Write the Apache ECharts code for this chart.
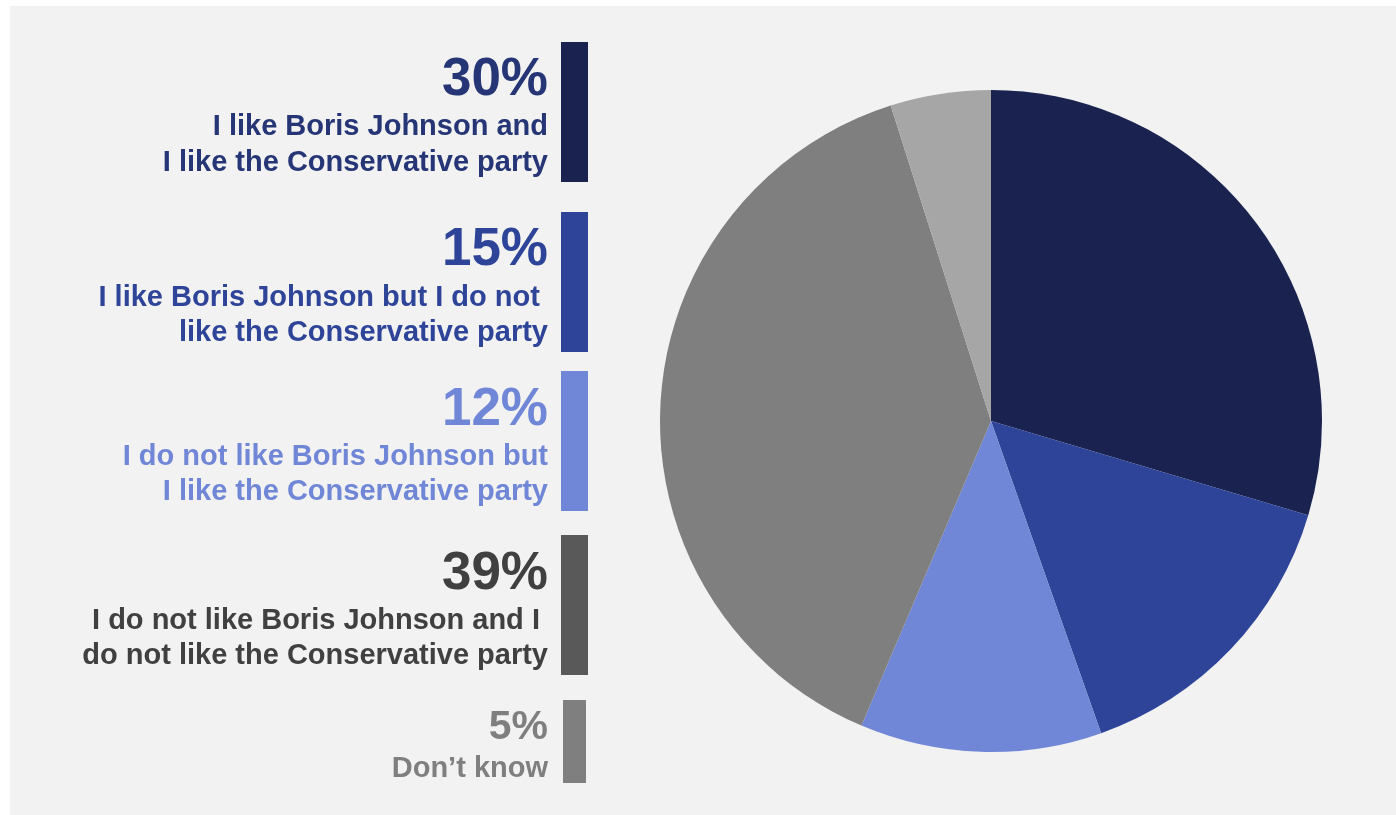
<!DOCTYPE html>
<html>
<head>
<meta charset="utf-8">
<script src="https://cdn.jsdelivr.net/npm/echarts@6/dist/echarts.min.js"></script>
<style>
html,body{margin:0;padding:0;background:#fff;}
#chart{width:1396px;height:815px;}
</style>
</head>
<body>
<div id="chart"></div>
<script>
// ---- data ----
const categories = [
  ['I like Boris Johnson and', 'I like the Conservative party'],
  ['I like Boris Johnson but I do not ', 'like the Conservative party'],
  ['I do not like Boris Johnson but', 'I like the Conservative party'],
  ['I do not like Boris Johnson and I ', 'do not like the Conservative party'],
  ['Don\u2019t know']
];
const values = [29.6, 15.0, 11.8, 38.7, 4.9];
const percentLabels = ['30%', '15%', '12%', '39%', '5%'];

// ---- styles ----
const pieColors = ['#1a2350', '#2e4499', '#7086d6', '#7f7f7f', '#a6a6a6'];
const barColors = ['#1a2350', '#2e4499', '#7086d6', '#595959', '#7f7f7f'];
const textColors = ['#253575', '#2e4499', '#7086d6', '#404040', '#7f7f7f'];
const barTops = [42, 212, 371, 535, 700];
const barHeights = [140, 140, 140, 140, 83];
const pctCenters = [80, 250, 410, 574, 728];
const pctSizes = [53, 53, 53, 53, 41];
const descCenters = [[127, 163], [298, 333], [457, 492], [621, 656], [769]];
const FONT = 'Liberation Sans';

const graphics = [{
  type: 'rect', z: -10, silent: true,
  shape: { x: 10, y: 6, width: 1386, height: 809 },
  style: { fill: '#f2f2f2' }
}];
categories.forEach((lines, i) => {
  graphics.push({
    type: 'rect',
    shape: { x: i === 4 ? 563 : 561, y: barTops[i], width: i === 4 ? 23 : 27, height: barHeights[i] },
    style: { fill: barColors[i] }
  });
  graphics.push({
    type: 'text', x: 548, y: pctCenters[i],
    style: { text: percentLabels[i], align: 'right', verticalAlign: 'middle',
      fontFamily: FONT, fontWeight: 'bold', fontSize: pctSizes[i], fill: textColors[i] }
  });
  lines.forEach((ln, j) => {
    graphics.push({
      type: 'text', x: 548, y: descCenters[i][j],
      style: { text: ln, align: 'right', verticalAlign: 'middle',
        fontFamily: FONT, fontWeight: 'bold', fontSize: 29, fill: textColors[i] }
    });
  });
});

const chart = echarts.init(document.getElementById('chart'), null, { renderer: 'canvas' });
chart.setOption({
  backgroundColor: '#ffffff',
  animation: false,
  graphic: graphics,
  series: [{
    type: 'pie',
    center: [991, 421],
    radius: [0, 331],
    startAngle: 90,
    clockwise: true,
    label: { show: false },
    labelLine: { show: false },
    itemStyle: { borderWidth: 0 },
    emphasis: { disabled: true },
    data: values.map((v, i) => ({
      name: categories[i].join(' '),
      value: v,
      itemStyle: { color: pieColors[i] }
    }))
  }]
});
</script>
</body>
</html>
